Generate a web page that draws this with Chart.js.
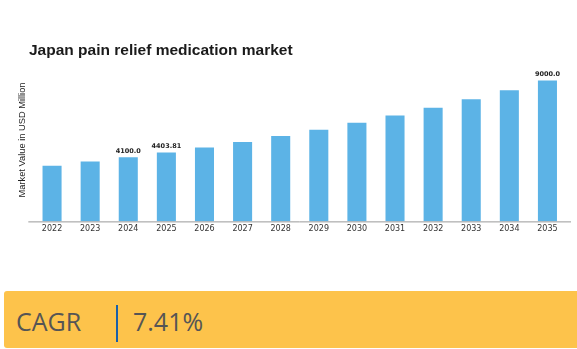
<!DOCTYPE html>
<html>
<head>
<meta charset="utf-8">
<script src="https://cdn.jsdelivr.net/npm/chart.js@4"></script>
<style>
    body { margin: 0; background: #fff; width: 577px; height: 349px; overflow: hidden; position: relative; }
    #wrap { position: absolute; left: 0; top: 0; width: 577px; height: 260px; }
    .cagr { position: absolute; left: 4px; top: 291px; width: 573px; height: 57px; background: #fdc34b; border-radius: 3px 0 0 3px; font-family: "Open Sans", sans-serif; color: #555; font-size: 25px; }
    .cagr .lab { position: absolute; left: 12px; top: 13px; }
    .cagr .sep { position: absolute; left: 112px; top: 14px; width: 1.5px; height: 37px; background: #1a5fa8; }
    .cagr .val { position: absolute; left: 129px; top: 13px; }
</style>
</head>
<body>
<div id="wrap"><canvas id="marketChart" width="577" height="260"></canvas></div>
<div class="cagr"><span class="lab">CAGR</span><span class="sep"></span><span class="val">7.41%</span></div>
<script>
    // Years and market values (USD Million)
    var years = ['2022', '2023', '2024', '2025', '2026', '2027', '2028', '2029', '2030', '2031', '2032', '2033', '2034', '2035'];
    var values = [3550, 3820, 4100, 4403.81, 4730, 5080, 5455, 5860, 6300, 6770, 7265, 7800, 8380, 9000];
    // Only these bars carry a value label
    var labelledIdx = [2, 3, 13];
    var labelText = ['4100.0', '4403.81', '9000.0'];
    var yTitle = 'Market Value in USD Million';

    // Value labels above some bars, the x axis line and the rotated y axis title
    var barLabels = {
        id: 'barLabels',
        afterDatasetsDraw: function(chart) {
            var ctx = chart.ctx;
            var area = chart.chartArea;
            var meta = chart.getDatasetMeta(0);

            // axis line runs a bit past the plot area, like the original
            ctx.save();
            ctx.strokeStyle = '#999';
            ctx.lineWidth = 1;
            ctx.beginPath();
            ctx.moveTo(area.left - 4.7, area.bottom + 0.5);
            ctx.lineTo(area.right + 4.5, area.bottom + 0.5);
            ctx.stroke();
            ctx.restore();

            ctx.save();
            ctx.font = 'bold 6.5px "DejaVu Sans"';
            ctx.fillStyle = '#222';
            ctx.textAlign = 'center';
            ctx.textBaseline = 'bottom';
            for (var i = 0; i < labelledIdx.length; i++) {
                var bar = meta.data[labelledIdx[i]];
                ctx.fillText(labelText[i], bar.x, bar.y - 3);
            }
            ctx.restore();

            // y axis title
            ctx.save();
            ctx.translate(22.7, 140);
            ctx.rotate(-Math.PI / 2);
            ctx.font = '9.3px "Liberation Sans", Arial, sans-serif';
            ctx.fillStyle = '#222';
            ctx.textAlign = 'center';
            ctx.textBaseline = 'middle';
            ctx.fillText(yTitle, 0, 0);
            ctx.restore();
        }
    };

    var ctx = document.getElementById('marketChart').getContext('2d');
    var myChart = new Chart(ctx, {
        type: 'bar',
        data: {
            labels: years,
            datasets: [{
                label: 'Market Value',
                data: values,
                backgroundColor: '#5cb3e6',
                borderWidth: 0,
                barPercentage: 0.5,
                categoryPercentage: 1.0
            }]
        },
        options: {
            responsive: false,
            animation: false,
            layout: {
                padding: { left: 29, right: 10.5, top: 0, bottom: 23 }
            },
            scales: {
                y: {
                    beginAtZero: true,
                    max: 9700,
                    grid: { display: false },
                    border: { display: false },
                    ticks: { display: false },
                    afterFit: function(axis) { axis.width = 4; }
                },
                x: {
                    grid: { display: false, drawTicks: false },
                    border: { display: false },
                    ticks: {
                        color: '#333',
                        padding: 3,
                        maxRotation: 0,
                        font: { family: '"DejaVu Sans", sans-serif', size: 8 }
                    }
                }
            },
            plugins: {
                title: {
                    display: true,
                    text: 'Japan pain relief medication market',
                    align: 'start',
                    color: '#1a1a1a',
                    font: { family: '"Liberation Sans", Arial, sans-serif', size: 15.5, weight: 'bold' },
                    padding: { top: 41, bottom: 10 }
                },
                legend: { display: false },
                tooltip: { enabled: false }
            }
        },
        plugins: [barLabels]
    });
</script>
</body>
</html>
